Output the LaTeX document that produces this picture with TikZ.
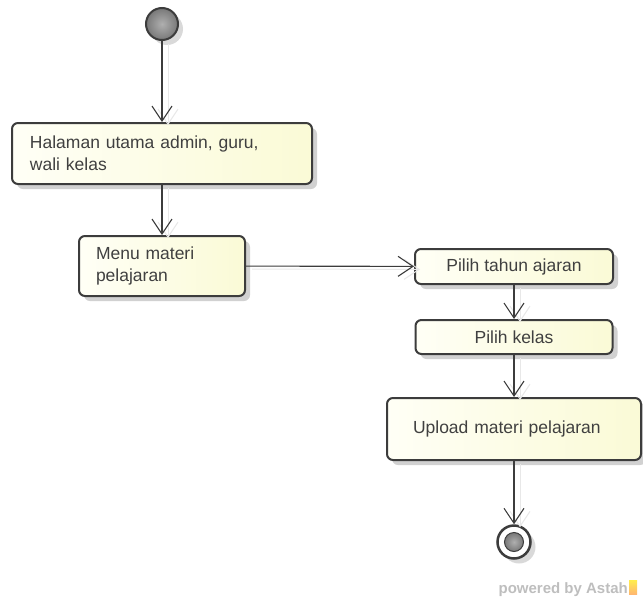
\documentclass[tikz,border=0pt]{standalone}
\usepackage{fontspec}
\setmainfont{Liberation Sans}
\usetikzlibrary{arrows.meta,shadows}
\definecolor{linec}{RGB}{60,60,60}
\definecolor{txtc}{RGB}{64,64,64}
\definecolor{boxl}{RGB}{255,255,246}
\definecolor{boxr}{RGB}{250,250,214}
\definecolor{wmc}{RGB}{190,190,190}
\definecolor{ballin}{RGB}{175,175,175}
\definecolor{ballout}{RGB}{120,120,120}
\begin{document}
\begin{tikzpicture}[x=1pt,y=-1pt,
  act/.style={draw=linec, line width=2pt, rounded corners=6pt,
    left color=boxl, right color=boxr,
    drop shadow={shadow xshift=5pt, shadow yshift=-5pt, opacity=0.18, fill=black},
    font=\fontsize{17.5}{22}\selectfont, text=txtc, inner ysep=0pt},
  flow/.style={draw=linec, line width=1.1pt, -{Straight Barb[length=15pt,width=20pt]},
    preaction={draw=black!9, line width=1pt, transform canvas={shift={(6pt,-3pt)}}}},
  blob/.style={circle, inner sep=0pt, draw=linec},
  ball/.style={inner color=ballin, outer color=ballout},
]
\useasboundingbox (0,0) rectangle (643,600);

\node[blob, ball, minimum size=32pt, line width=2pt,
  drop shadow={shadow xshift=5pt, shadow yshift=-5pt, opacity=0.15, fill=black}] (start) at (162,24) {};

\node[act, minimum width=300pt, minimum height=61pt, text width=264pt, inner xsep=18pt, align=left]
  (b1) at (162,153.5) {Halaman utama admin, guru,\\wali kelas};
\node[act, minimum width=166pt, minimum height=60pt, text width=132pt, inner xsep=17pt, align=left]
  (b2) at (162,266) {Menu materi\\pelajaran};
\node[act, minimum width=198pt, minimum height=35pt]
  (b3) at (514,266.5) {Pilih tahun ajaran};
\node[act, minimum width=197pt, minimum height=34pt]
  (b4) at (514,337) {Pilih kelas};
\node[act, minimum width=254pt, minimum height=62pt, text width=202pt, inner xsep=26pt, align=left]
  (b5) at (514,429) {Upload materi pelajaran};

\node[blob, minimum size=33pt, line width=2.5pt, fill=white,
  drop shadow={shadow xshift=5pt, shadow yshift=-5pt, opacity=0.15, fill=black}] (end) at (514,542) {};
\node[blob, ball, minimum size=19pt, line width=1pt] (endc) at (end) {};

\draw[flow] (start) -- (b1);
\draw[flow] (b1) -- (b2);
\draw[flow] (b2) -- (b3);
\draw[flow] (b3) -- (b4);
\draw[flow] (b4) -- (b5);
\draw[flow] (b5) -- (end);

\node[anchor=base east, font=\bfseries\fontsize{15}{15}\selectfont, text=wmc, inner sep=0pt]
  (wm) at (628,593) {powered by Astah};
\shade[top color=yellow!80!orange, bottom color=orange!80, opacity=0.7]
  (629,580) rectangle (637,594);
\end{tikzpicture}
\end{document}
